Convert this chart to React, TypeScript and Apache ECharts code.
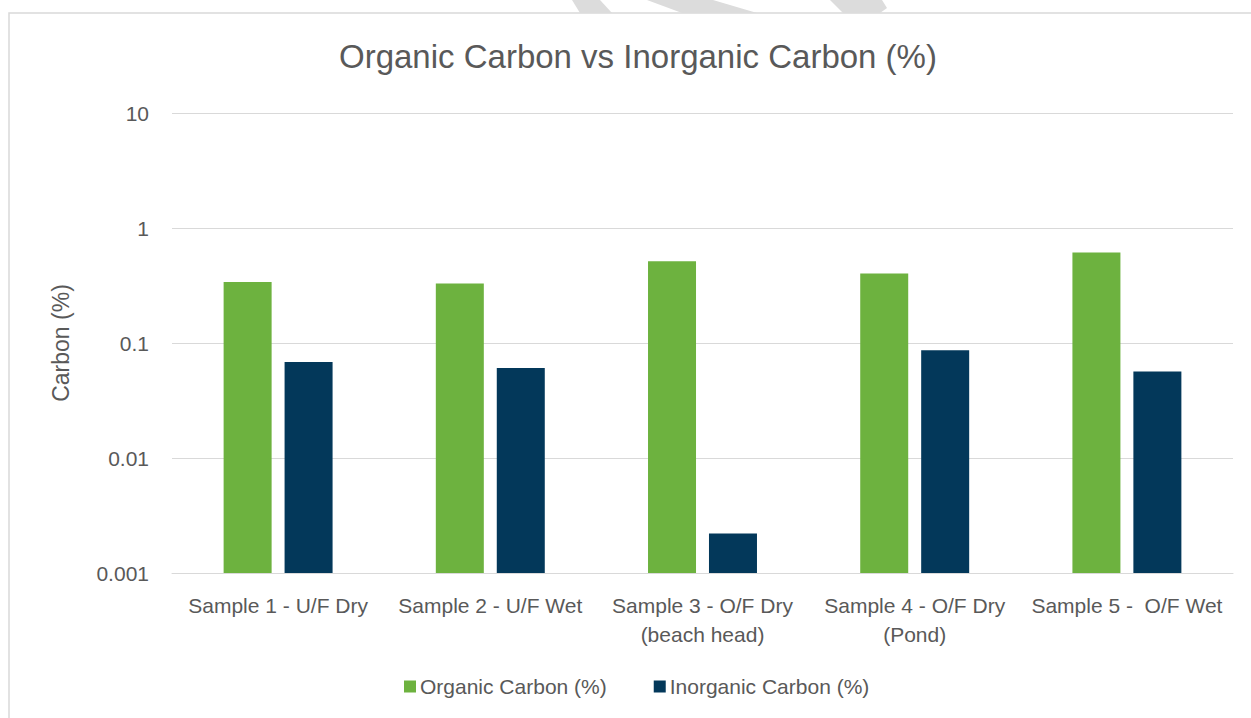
import React, { useEffect, useRef } from "react";
import * as echarts from "echarts";

const categories = [
  "Sample 1 - U/F Dry",
  "Sample 2 - U/F Wet",
  "Sample 3 - O/F Dry\n(beach head)",
  "Sample 4 - O/F Dry\n(Pond)",
  "Sample 5 -  O/F Wet",
];
const organicCarbon = [0.34, 0.329, 0.515, 0.403, 0.611];
const inorganicCarbon = [0.0682, 0.0605, 0.0022, 0.0867, 0.0566];
const seriesNames = ["Organic Carbon (%)", "Inorganic Carbon (%)"];
const yMin = 0.001;
const yMax = 10;

const FONT = "'Liberation Sans', Arial, sans-serif";
const TEXT = "#595959";
const GRID = "#D9D9D9";

export default function App() {
  const ref = useRef<HTMLDivElement>(null);
  useEffect(() => {
    if (!ref.current) return;
    const chart = echarts.init(ref.current, undefined, { renderer: "svg" });
    chart.setOption({
      animation: false,
      backgroundColor: "#ffffff",
      textStyle: { fontFamily: FONT },
      title: {
        text: "Organic Carbon vs Inorganic Carbon (%)",
        left: 339,
        top: 40,
        padding: 0,
        textStyle: { fontFamily: FONT, fontSize: 33, fontWeight: "normal", color: TEXT },
      },
      legend: {
        data: seriesNames,
        left: 404,
        top: 676,
        padding: 0,
        itemWidth: 12,
        itemHeight: 12,
        itemGap: 47,
        icon: "rect",
        textStyle: { fontFamily: FONT, fontSize: 21, color: TEXT, padding: [0, 0, 0, -1] },
      },
      grid: { left: 172, right: 18, top: 113, bottom: 145, containLabel: false },
      xAxis: {
        type: "category",
        data: categories,
        axisLine: { show: true, lineStyle: { color: GRID, width: 1 } },
        axisTick: { show: false },
        axisLabel: {
          fontFamily: FONT,
          fontSize: 21,
          color: TEXT,
          lineHeight: 29,
          margin: 18,
          interval: 0,
        },
      },
      yAxis: {
        type: "log",
        logBase: 10,
        min: yMin,
        max: yMax,
        startValue: yMin,
        name: "Carbon (%)",
        nameLocation: "middle",
        nameGap: 100,
        nameRotate: 90,
        nameTextStyle: { fontFamily: FONT, fontSize: 23, color: TEXT },
        axisLine: { show: false },
        axisTick: { show: false },
        splitLine: { show: true, lineStyle: { color: GRID, width: 1 } },
        axisLabel: {
          fontFamily: FONT,
          fontSize: 21,
          color: TEXT,
          margin: 23,
          formatter: (v: number) => String(+v.toPrecision(3)),
        },
      },
      series: [
        {
          name: seriesNames[0],
          type: "bar",
          data: organicCarbon,
          barWidth: 48,
          barGap: "27%",
          itemStyle: { color: "#6DB23F" },
        },
        {
          name: seriesNames[1],
          type: "bar",
          data: inorganicCarbon,
          barWidth: 48,
          barGap: "27%",
          itemStyle: { color: "#03385A" },
        },
      ],
      graphic: [
        {
          type: "polygon",
          shape: { points: [[572, 0], [600, 0], [612, 13], [580, 13]] },
          style: { fill: "#DCDCDC" },
          silent: true,
        },
        {
          type: "polygon",
          shape: { points: [[647, 0], [713, 0], [757, 13], [682, 13]] },
          style: { fill: "#DCDCDC" },
          silent: true,
        },
        {
          type: "polygon",
          shape: { points: [[830, 0], [882, 0], [887, 8], [880, 13], [843, 13]] },
          style: { fill: "#DCDCDC" },
          silent: true,
        },
        {
          type: "rect",
          shape: { x: 9, y: 13, width: 1400, height: 900 },
          style: { fill: "none", stroke: GRID, lineWidth: 1.5 },
          silent: true,
          z: -1,
        },
      ],
    });
    return () => chart.dispose();
  }, []);
  return (
    <div
      ref={ref}
      style={{ position: "absolute", left: 0, top: 0, width: 1251, height: 718 }}
    />
  );
}
